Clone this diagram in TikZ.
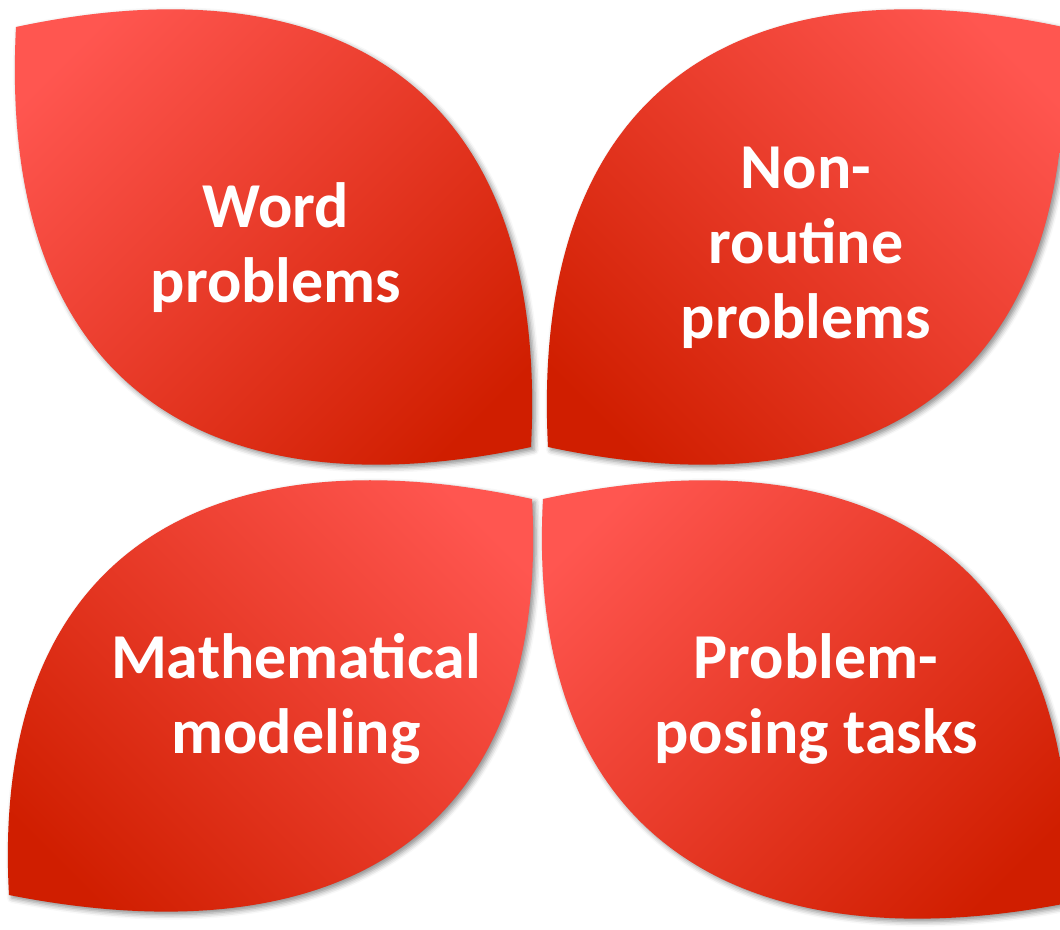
\documentclass[tikz,border=0pt]{standalone}
\usepackage{fontspec}
\setmainfont{Carlito}
\usetikzlibrary{shadows.blur}
\definecolor{leaflight}{HTML}{FF5650}
\definecolor{leafdark}{HTML}{D01E00}

\tikzset{
  leaf/.style={top color=leaflight,bottom color=leafdark,
    blur shadow={shadow xshift=3pt,shadow yshift=-3pt,shadow blur radius=5pt,shadow opacity=45}},
  leaftext/.style={text=white,align=center,font=\fontsize{64}{75}\selectfont\bfseries}
}

\begin{document}
\begin{tikzpicture}[x=1pt,y=-1pt]
\useasboundingbox (0,0) rectangle (1060,929);

% four leaves, light corner towards the outside
\path[leaf,shading angle=45] (16,27) .. controls (330,-40) and (550,80) .. (531,447)
  .. controls (217,514) and (-3,394) .. (16,27) -- cycle;
\path[leaf,shading angle=-45] (1063,27) .. controls (749,-40) and (529,80) .. (548,447)
  .. controls (862,514) and (1082,394) .. (1063,27) -- cycle;
\path[leaf,shading angle=-45] (532,499) .. controls (213,430) and (-10,549) .. (9,895)
  .. controls (328,958) and (551,845) .. (532,499) -- cycle;
\path[leaf,shading angle=45] (543,499) .. controls (862,430) and (1085,549) .. (1068,903)
  .. controls (750,965) and (524,845) .. (543,499) -- cycle;

\node[leaftext] (word) at (276,248) {Word\\problems};
\node[leaftext] (nonroutine) at (806,248) {Non-\\routine\\problems};
\node[leaftext] (modeling) at (296,699) {Mathematical\\modeling};
\node[leaftext] (posing) at (816,699) {Problem-\\posing tasks};
\end{tikzpicture}
\end{document}
